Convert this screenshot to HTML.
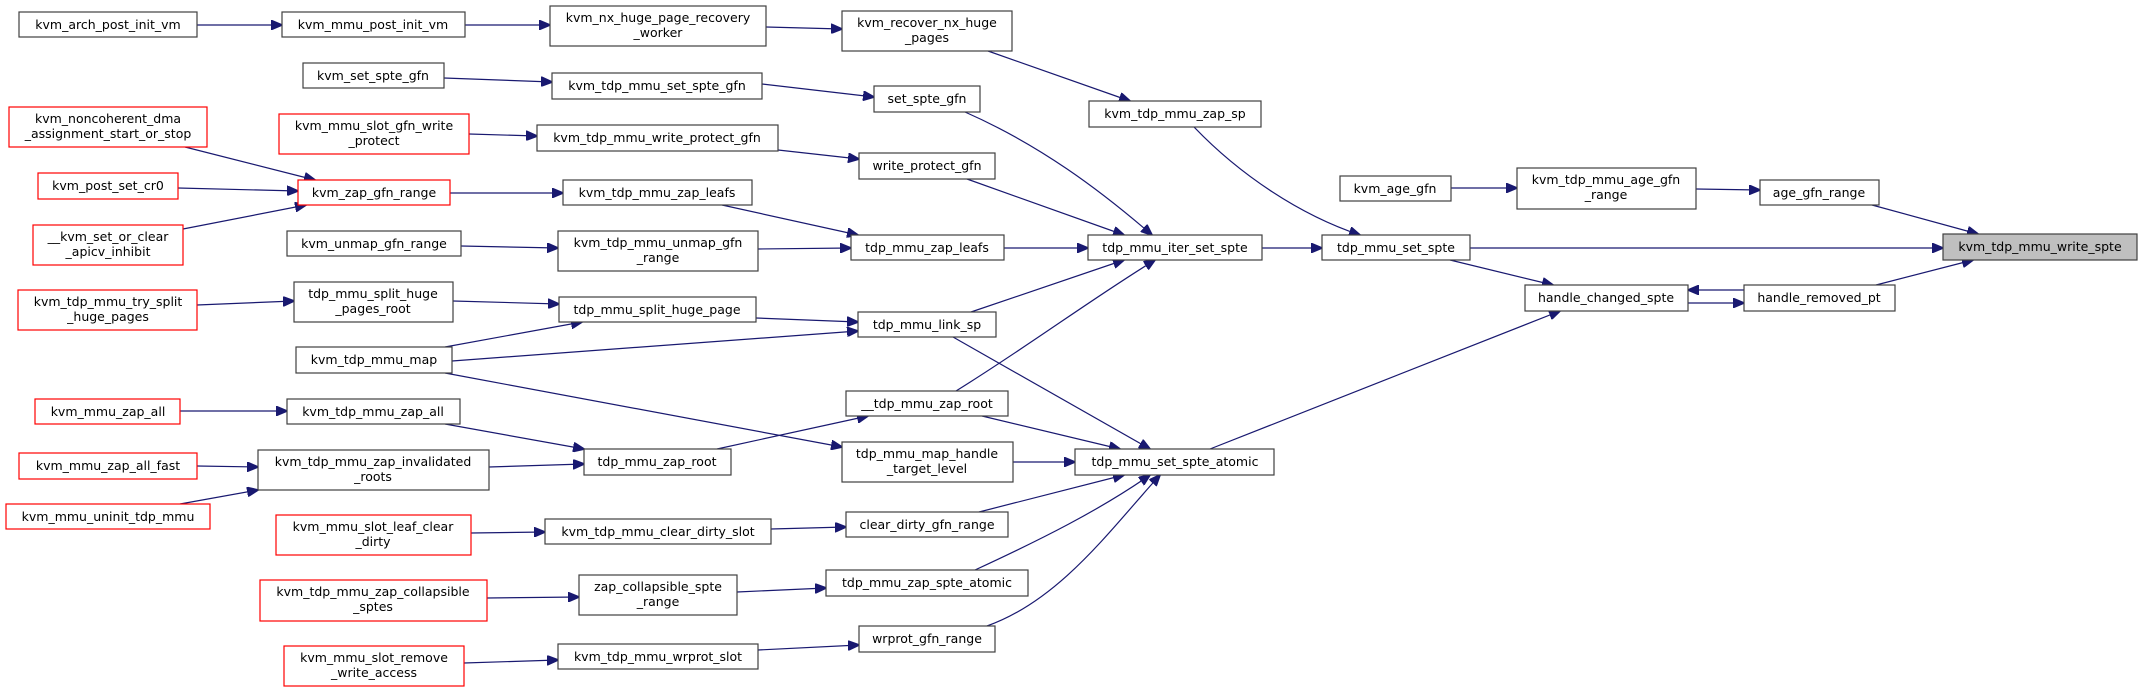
<!DOCTYPE html>
<html><head><meta charset="utf-8"><style>
html,body{margin:0;padding:0;background:#fff;}
svg{display:block;}
text{font-family:"DejaVu Sans","Liberation Sans",sans-serif;font-size:12.5px;fill:#000;text-anchor:middle;}
.b{fill:#fff;stroke:#404040;stroke-width:1.2;}
.r{fill:#fff;stroke:#ff0000;stroke-width:1.2;}
.g{fill:#bfbfbf;stroke:#404040;stroke-width:1.2;}
path{fill:none;stroke:#191970;stroke-width:1.2;}
</style></head><body>
<svg width="2143" height="692" viewBox="0 0 2143 692" xmlns="http://www.w3.org/2000/svg">
<defs><marker id="a" markerWidth="12" markerHeight="10" refX="11" refY="5" orient="auto" markerUnits="userSpaceOnUse"><polygon points="0,0 12,5 0,10" fill="#191970" stroke="#191970"/></marker></defs>
<g marker-end="url(#a)">
<path d="M197,25 L282,25"/>
<path d="M465,25 L550,25"/>
<path d="M766,27 L842,29"/>
<path d="M988,51 L1130,101"/>
<path d="M1194,127 C1240,175 1300,215 1360,235"/>
<path d="M444,78 L552,82"/>
<path d="M762,84 L874,97"/>
<path d="M965,112 C1040,145 1100,190 1152,235"/>
<path d="M469,134 L537,136"/>
<path d="M778,150 L859,159"/>
<path d="M967,179 L1124,235"/>
<path d="M185,147 L315,180"/>
<path d="M178,188 L298,191"/>
<path d="M183,229 L306,205"/>
<path d="M450,193 L563,193"/>
<path d="M722,205 L858,235"/>
<path d="M461,246 L558,248"/>
<path d="M758,249 L851,248"/>
<path d="M1004,248 L1088,248"/>
<path d="M1262,248 L1322,248"/>
<path d="M1470,248 L1943,248"/>
<path d="M197,305 L294,301"/>
<path d="M453,301 L559,304"/>
<path d="M756,318 L858,322"/>
<path d="M445,347 L582,322"/>
<path d="M452,361 L858,331"/>
<path d="M445,373 L842,447"/>
<path d="M971,312 L1124,260"/>
<path d="M953,337 L1150,449"/>
<path d="M956,391 C1030,345 1090,300 1155,260"/>
<path d="M982,416 L1120,449"/>
<path d="M1013,462 L1075,462"/>
<path d="M180,411 L287,411"/>
<path d="M445,424 L584,449"/>
<path d="M197,466 L258,467"/>
<path d="M180,504 L258,490"/>
<path d="M489,467 L584,464"/>
<path d="M717,449 L868,416"/>
<path d="M979,512 L1124,475"/>
<path d="M471,533 L545,532"/>
<path d="M771,529 L846,527"/>
<path d="M487,598 L579,597"/>
<path d="M737,592 L826,588"/>
<path d="M975,570 C1040,540 1100,510 1150,475"/>
<path d="M464,663 L558,660"/>
<path d="M758,650 L859,645"/>
<path d="M987,626 C1060,600 1110,530 1160,475"/>
<path d="M1210,449 L1560,311"/>
<path d="M1450,260 L1553,285"/>
<path d="M1688,303 L1744,303"/>
<path d="M1744,290 L1688,290"/>
<path d="M1876,285 L1973,260"/>
<path d="M1872,205 L1978,234"/>
<path d="M1451,188 L1517,188"/>
<path d="M1696,189 L1760,190"/>
</g>
<rect class="b" x="19" y="12" width="178" height="25"/><text x="108" y="29">kvm_arch_post_init_vm</text>
<rect class="b" x="282" y="12" width="183" height="25"/><text x="373" y="29">kvm_mmu_post_init_vm</text>
<rect class="b" x="550" y="6" width="216" height="40"/><text x="658" y="22">kvm_nx_huge_page_recovery</text><text x="658" y="37">_worker</text>
<rect class="b" x="842" y="11" width="170" height="40"/><text x="927" y="27">kvm_recover_nx_huge</text><text x="927" y="42">_pages</text>
<rect class="b" x="303" y="63" width="141" height="25"/><text x="373" y="80">kvm_set_spte_gfn</text>
<rect class="b" x="552" y="73" width="210" height="26"/><text x="657" y="90">kvm_tdp_mmu_set_spte_gfn</text>
<rect class="b" x="874" y="86" width="106" height="26"/><text x="927" y="103">set_spte_gfn</text>
<rect class="b" x="1089" y="101" width="172" height="26"/><text x="1175" y="118">kvm_tdp_mmu_zap_sp</text>
<rect class="r" x="9" y="107" width="198" height="40"/><text x="108" y="123">kvm_noncoherent_dma</text><text x="108" y="138">_assignment_start_or_stop</text>
<rect class="r" x="279" y="114" width="190" height="40"/><text x="374" y="130">kvm_mmu_slot_gfn_write</text><text x="374" y="145">_protect</text>
<rect class="b" x="537" y="125" width="241" height="26"/><text x="657" y="142">kvm_tdp_mmu_write_protect_gfn</text>
<rect class="b" x="859" y="153" width="136" height="26"/><text x="927" y="170">write_protect_gfn</text>
<rect class="b" x="1340" y="176" width="111" height="25"/><text x="1395" y="193">kvm_age_gfn</text>
<rect class="b" x="1517" y="168" width="179" height="41"/><text x="1606" y="184">kvm_tdp_mmu_age_gfn</text><text x="1606" y="199">_range</text>
<rect class="b" x="1760" y="180" width="119" height="25"/><text x="1819" y="197">age_gfn_range</text>
<rect class="r" x="38" y="173" width="140" height="26"/><text x="108" y="190">kvm_post_set_cr0</text>
<rect class="r" x="298" y="180" width="152" height="25"/><text x="374" y="197">kvm_zap_gfn_range</text>
<rect class="b" x="563" y="180" width="189" height="25"/><text x="657" y="197">kvm_tdp_mmu_zap_leafs</text>
<rect class="r" x="33" y="225" width="150" height="40"/><text x="108" y="241">__kvm_set_or_clear</text><text x="108" y="256">_apicv_inhibit</text>
<rect class="b" x="287" y="231" width="174" height="25"/><text x="374" y="248">kvm_unmap_gfn_range</text>
<rect class="b" x="558" y="231" width="200" height="40"/><text x="658" y="247">kvm_tdp_mmu_unmap_gfn</text><text x="658" y="262">_range</text>
<rect class="b" x="851" y="235" width="153" height="25"/><text x="927" y="252">tdp_mmu_zap_leafs</text>
<rect class="b" x="1088" y="235" width="174" height="25"/><text x="1175" y="252">tdp_mmu_iter_set_spte</text>
<rect class="b" x="1322" y="235" width="148" height="25"/><text x="1396" y="252">tdp_mmu_set_spte</text>
<rect class="g" x="1943" y="234" width="194" height="26"/><text x="2040" y="251">kvm_tdp_mmu_write_spte</text>
<rect class="b" x="1525" y="285" width="163" height="26"/><text x="1606" y="302">handle_changed_spte</text>
<rect class="b" x="1744" y="285" width="151" height="26"/><text x="1819" y="302">handle_removed_pt</text>
<rect class="r" x="18" y="290" width="179" height="40"/><text x="108" y="306">kvm_tdp_mmu_try_split</text><text x="108" y="321">_huge_pages</text>
<rect class="b" x="294" y="282" width="159" height="40"/><text x="373" y="298">tdp_mmu_split_huge</text><text x="373" y="313">_pages_root</text>
<rect class="b" x="559" y="297" width="197" height="25"/><text x="657" y="314">tdp_mmu_split_huge_page</text>
<rect class="b" x="858" y="312" width="138" height="25"/><text x="927" y="329">tdp_mmu_link_sp</text>
<rect class="b" x="296" y="347" width="156" height="26"/><text x="374" y="364">kvm_tdp_mmu_map</text>
<rect class="b" x="846" y="391" width="162" height="25"/><text x="927" y="408">__tdp_mmu_zap_root</text>
<rect class="r" x="35" y="399" width="145" height="25"/><text x="108" y="416">kvm_mmu_zap_all</text>
<rect class="b" x="287" y="399" width="173" height="25"/><text x="373" y="416">kvm_tdp_mmu_zap_all</text>
<rect class="b" x="842" y="442" width="171" height="40"/><text x="927" y="458">tdp_mmu_map_handle</text><text x="927" y="473">_target_level</text>
<rect class="b" x="1075" y="449" width="199" height="26"/><text x="1175" y="466">tdp_mmu_set_spte_atomic</text>
<rect class="r" x="19" y="453" width="178" height="26"/><text x="108" y="470">kvm_mmu_zap_all_fast</text>
<rect class="b" x="258" y="450" width="231" height="40"/><text x="373" y="466">kvm_tdp_mmu_zap_invalidated</text><text x="373" y="481">_roots</text>
<rect class="b" x="584" y="449" width="147" height="26"/><text x="657" y="466">tdp_mmu_zap_root</text>
<rect class="r" x="6" y="504" width="204" height="25"/><text x="108" y="521">kvm_mmu_uninit_tdp_mmu</text>
<rect class="r" x="276" y="515" width="195" height="40"/><text x="373" y="531">kvm_mmu_slot_leaf_clear</text><text x="373" y="546">_dirty</text>
<rect class="b" x="545" y="519" width="226" height="25"/><text x="658" y="536">kvm_tdp_mmu_clear_dirty_slot</text>
<rect class="b" x="846" y="512" width="162" height="25"/><text x="927" y="529">clear_dirty_gfn_range</text>
<rect class="r" x="260" y="580" width="227" height="41"/><text x="373" y="596">kvm_tdp_mmu_zap_collapsible</text><text x="373" y="611">_sptes</text>
<rect class="b" x="579" y="575" width="158" height="40"/><text x="658" y="591">zap_collapsible_spte</text><text x="658" y="606">_range</text>
<rect class="b" x="826" y="570" width="202" height="26"/><text x="927" y="587">tdp_mmu_zap_spte_atomic</text>
<rect class="r" x="284" y="646" width="180" height="40"/><text x="374" y="662">kvm_mmu_slot_remove</text><text x="374" y="677">_write_access</text>
<rect class="b" x="558" y="644" width="200" height="25"/><text x="658" y="661">kvm_tdp_mmu_wrprot_slot</text>
<rect class="b" x="859" y="626" width="136" height="26"/><text x="927" y="643">wrprot_gfn_range</text>
</svg>
</body></html>
